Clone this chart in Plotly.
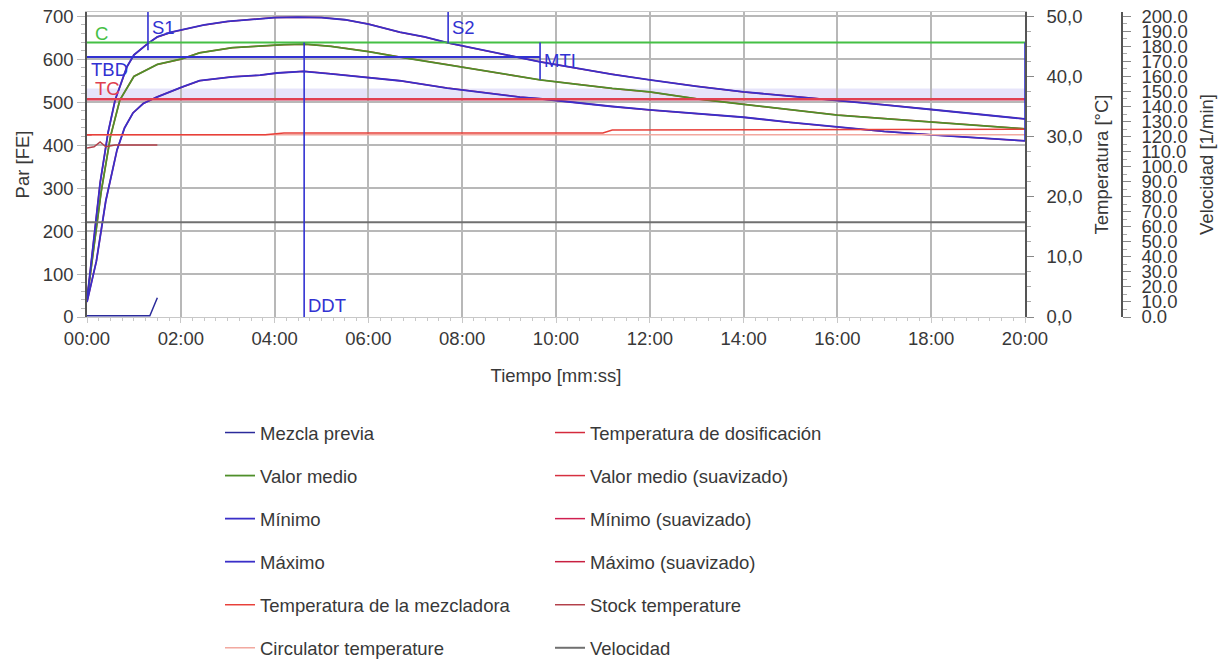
import plotly.graph_objects as go

# ---------------- data (time in minutes) ----------------
t_max = [0, 0.15, 0.28, 0.45, 0.6, 0.85, 1.0, 1.3, 1.5, 1.8, 2.0, 2.5, 3.0, 3.5, 4.0, 4.5, 5.0, 5.5,
         6.0, 6.67, 7.2, 7.7, 8.5, 9.2, 9.66, 10.5, 11.2, 12, 13, 14, 15, 16, 17, 18, 19, 20]
par_max = [40, 190, 312, 430, 505, 582, 610, 637, 652, 663, 668, 680, 688, 693, 697, 698, 697, 692,
           682, 663, 652, 638, 620, 604, 594, 578, 565, 552, 537, 524, 514, 505, 494, 483, 472, 461]

t_mean = [0, 0.15, 0.3, 0.5, 0.7, 1.0, 1.5, 2.0, 2.4, 3.1, 3.7, 4.2, 4.65, 5.2, 6.0, 6.67, 7.7,
          8.5, 9.2, 9.66, 10.5, 11.2, 12, 13, 14, 15, 16, 17, 18, 19, 20]
par_mean = [40, 170, 290, 420, 505, 560, 588, 600, 615, 627, 631, 634, 635, 630, 618, 605, 587,
            572, 559, 552, 541, 532, 524, 508, 495, 482, 470, 462, 454, 446, 438]

t_min = [0, 0.2, 0.4, 0.64, 0.8, 0.98, 1.2, 1.49, 2.02, 2.4, 3.1, 3.69, 4.05, 4.62, 5.2, 6.03,
         6.67, 7.68, 8.5, 9.23, 9.66, 10.5, 11.2, 12, 13, 14, 15, 16, 17, 18, 19, 20]
par_min = [35, 130, 270, 389, 440, 475, 497, 512, 535, 550, 559, 563, 568, 572, 566, 556,
           550, 533, 522, 512, 508, 498, 490, 482, 474, 465, 453, 442, 432, 424, 417, 410]

t_premix = [0, 1.34, 1.5]
par_premix = [3, 3, 45]

t_mixer = [0, 3.8, 4.2, 11.0, 11.2, 20]
temp_mixer = [30.3, 30.3, 30.6, 30.6, 31.1, 31.2]

t_stock = [0, 0.15, 0.28, 0.4, 0.6, 1.5]
temp_stock = [28.1, 28.3, 29.1, 28.3, 28.6, 28.6]

t_circ = [0, 20]
temp_circ = [30.3, 30.3]

t_dosing = [0, 0.1]
temp_dosing = [30.3, 30.3]

t_speed = [0, 20]
speed = [63, 63]

# reference levels (Par [FE])
level_C = 639
level_TBD = 605
level_TC = 507
tc_band = [500, 532]

# event markers
marker_names = ["S1", "S2", "MTI", "DDT", ""]
marker_times = [1.30, 7.70, 9.66, 4.63, 20.0]
marker_low = [621, 638, 552, 0, 410]
marker_high = [710, 710, 639, 639, 639]

x_tickvals = [0, 2, 4, 6, 8, 10, 12, 14, 16, 18, 20]
x_ticktext = ["00:00", "02:00", "04:00", "06:00", "08:00", "10:00",
              "12:00", "14:00", "16:00", "18:00", "20:00"]
temp_tickvals = [0, 10, 20, 30, 40, 50]
temp_ticktext = ["0,0", "10,0", "20,0", "30,0", "40,0", "50,0"]

# ---------------- styling ----------------
FONT = "Liberation Sans, Arial, sans-serif"
FS = 18.5
TXT = "#383838"
BLUE = "#3a2fc8"
NAVY = "#2b2b9b"
GREEN = "#4f8f2a"
MARK = "#3232d2"
GRID = "#b8b8b8"
AX = "#555555"

PAR_MAX = 710
TEMP_MAX = 50 * PAR_MAX / 700
VEL_MAX = 200 * PAR_MAX / 700

L, R, T, B = 87, 0, 12, 346
W, H = 1230, 663
paper_w = W - L - R
x_dom_end = (1025 - L) / paper_w
vel_pos = (1122 - L) / paper_w

fig = go.Figure()

def add(x, y, name, color, width, legend, rank, yaxis="y"):
    fig.add_trace(go.Scatter(
        x=x, y=y, name=name, mode="lines", yaxis=yaxis,
        line=dict(color=color, width=width),
        legend=legend, legendgroup=name, legendrank=rank,
        hoverinfo="skip"))

# drawing order (bottom to top)
add(t_circ, temp_circ, "Circulator temperature", "#f2a9a0", 1.5, "legend", 6, "y2")
add(t_dosing, temp_dosing, "Temperatura de dosificación", "#d42a3c", 1.5, "legend2", 1, "y2")
add(t_stock, temp_stock, "Stock temperature", "#b3404a", 1.5, "legend2", 5, "y2")
add(t_mixer, temp_mixer, "Temperatura de la mezcladora", "#e8403a", 1.5, "legend", 5, "y2")
add(t_mean, par_mean, "Valor medio (suavizado)", "#d63040", 1.5, "legend2", 2)
add(t_min, par_min, "Mínimo (suavizado)", "#d02050", 1.5, "legend2", 3)
add(t_max, par_max, "Máximo (suavizado)", "#c82040", 1.5, "legend2", 4)
add(t_speed, speed, "Velocidad", "#707070", 2, "legend2", 6, "y3")
add(t_premix, par_premix, "Mezcla previa", NAVY, 1.5, "legend", 1)
add(t_mean, par_mean, "Valor medio", GREEN, 1.8, "legend", 2)
add(t_min, par_min, "Mínimo", BLUE, 1.8, "legend", 3)
add(t_max, par_max, "Máximo", BLUE, 1.8, "legend", 4)

# reference band and lines
fig.add_shape(type="rect", xref="x", yref="y", x0=0, x1=20, y0=tc_band[0], y1=tc_band[1],
              fillcolor="rgba(200,196,245,0.45)", line=dict(width=0), layer="below")
fig.add_shape(type="line", xref="x", yref="y", x0=0, x1=20, y0=level_C, y1=level_C,
              line=dict(color="#45c045", width=2))
fig.add_shape(type="line", xref="x", yref="y", x0=0, x1=marker_times[2], y0=level_TBD, y1=level_TBD,
              line=dict(color=MARK, width=2))
fig.add_shape(type="line", xref="x", yref="y", x0=0, x1=20, y0=level_TC, y1=level_TC,
              line=dict(color="#e04050", width=2.5))

for nm, tm, lo, hi in zip(marker_names, marker_times, marker_low, marker_high):
    fig.add_shape(type="line", xref="x", yref="y", x0=tm, x1=tm, y0=lo, y1=hi,
                  line=dict(color=MARK, width=1.6))

def label(x, y, text, color):
    fig.add_annotation(x=x, y=y, xref="x", yref="y", text=text, showarrow=False,
                       xanchor="left", yanchor="middle",
                       font=dict(family=FONT, size=FS, color=color))

label(0.12, 661, "C", "#45c045")
label(0.05, 575, "TBD", MARK)
label(0.12, 533, "TC", "#e04050")
label(marker_times[0] + 0.05, 673, "S1", MARK)
label(marker_times[1] + 0.05, 673, "S2", MARK)
label(marker_times[2] + 0.05, 598, "MTI", MARK)
label(marker_times[3] + 0.05, 26, "DDT", MARK)

tickfont = dict(family=FONT, size=FS, color=TXT)

fig.update_layout(
    width=W, height=H,
    margin=dict(l=L, r=R, t=T, b=B, autoexpand=False),
    paper_bgcolor="white", plot_bgcolor="white",
    font=dict(family=FONT, size=FS, color=TXT),
    showlegend=True,
    xaxis=dict(domain=[0, x_dom_end], range=[0, 20], tickmode="array",
               tickvals=x_tickvals, ticktext=x_ticktext, tickfont=tickfont,
               showgrid=True, gridcolor=GRID, gridwidth=2, zeroline=False,
               showline=True, linecolor="#c8c8c8", linewidth=1, mirror=True,
               ticks="outside", ticklen=5, tickcolor="#c8c8c8",
               minor=dict(tickmode="linear", tick0=0, dtick=0.25, ticks="outside",
                          ticklen=3, tickcolor="#c8c8c8", showgrid=False),
               title=dict(text="Tiempo [mm:ss]", font=tickfont, standoff=20)),
    yaxis=dict(range=[0, PAR_MAX], tickmode="linear", tick0=0, dtick=100, tickfont=tickfont,
               showgrid=True, gridcolor=GRID, gridwidth=2, zeroline=False,
               showline=True, linecolor=AX, linewidth=1.5,
               ticks="outside", ticklen=8, tickcolor=GRID,
               minor=dict(dtick=20, ticks="outside", ticklen=4, tickcolor=GRID, showgrid=False),
               title=dict(text="Par [FE]", font=tickfont, standoff=8)),
    yaxis2=dict(overlaying="y", side="right", anchor="x", range=[0, TEMP_MAX],
                tickmode="array", tickvals=temp_tickvals, ticktext=temp_ticktext,
                tickfont=tickfont, showgrid=False, zeroline=False,
                showline=True, linecolor=AX, linewidth=1.5,
                ticks="outside", ticklen=7, tickcolor="#888888", ticklabelstandoff=9,
                minor=dict(tickmode="linear", tick0=0, dtick=2.5, ticks="outside",
                           ticklen=4, tickcolor="#aaaaaa", showgrid=False),
                title=dict(text="Temperatura [°C]", font=tickfont, standoff=14)),
    yaxis3=dict(overlaying="y", side="right", anchor="free", position=vel_pos,
                range=[0, VEL_MAX], tickmode="linear", tick0=0, dtick=10, tickformat=".1f",
                tickfont=tickfont, showgrid=False, zeroline=False,
                showline=True, linecolor=AX, linewidth=1.5,
                ticks="outside", ticklen=8, tickcolor="#888888", ticklabelstandoff=7,
                minor=dict(tickmode="linear", tick0=0, dtick=5, ticks="outside",
                           ticklen=4, tickcolor="#aaaaaa", showgrid=False),
                title=dict(text="Velocidad [1/min]", font=tickfont, standoff=12)),
    legend=dict(x=(220 - L) / paper_w, xanchor="left", y=(317 - 414) / 305, yanchor="top",
                orientation="v", tracegroupgap=16, bgcolor="rgba(0,0,0,0)",
                font=dict(family=FONT, size=FS, color=TXT), itemclick=False),
    legend2=dict(x=(550 - L) / paper_w, xanchor="left", y=(317 - 414) / 305, yanchor="top",
                 orientation="v", tracegroupgap=16, bgcolor="rgba(0,0,0,0)",
                 font=dict(family=FONT, size=FS, color=TXT), itemclick=False),
)

fig.write_html("out.html")
